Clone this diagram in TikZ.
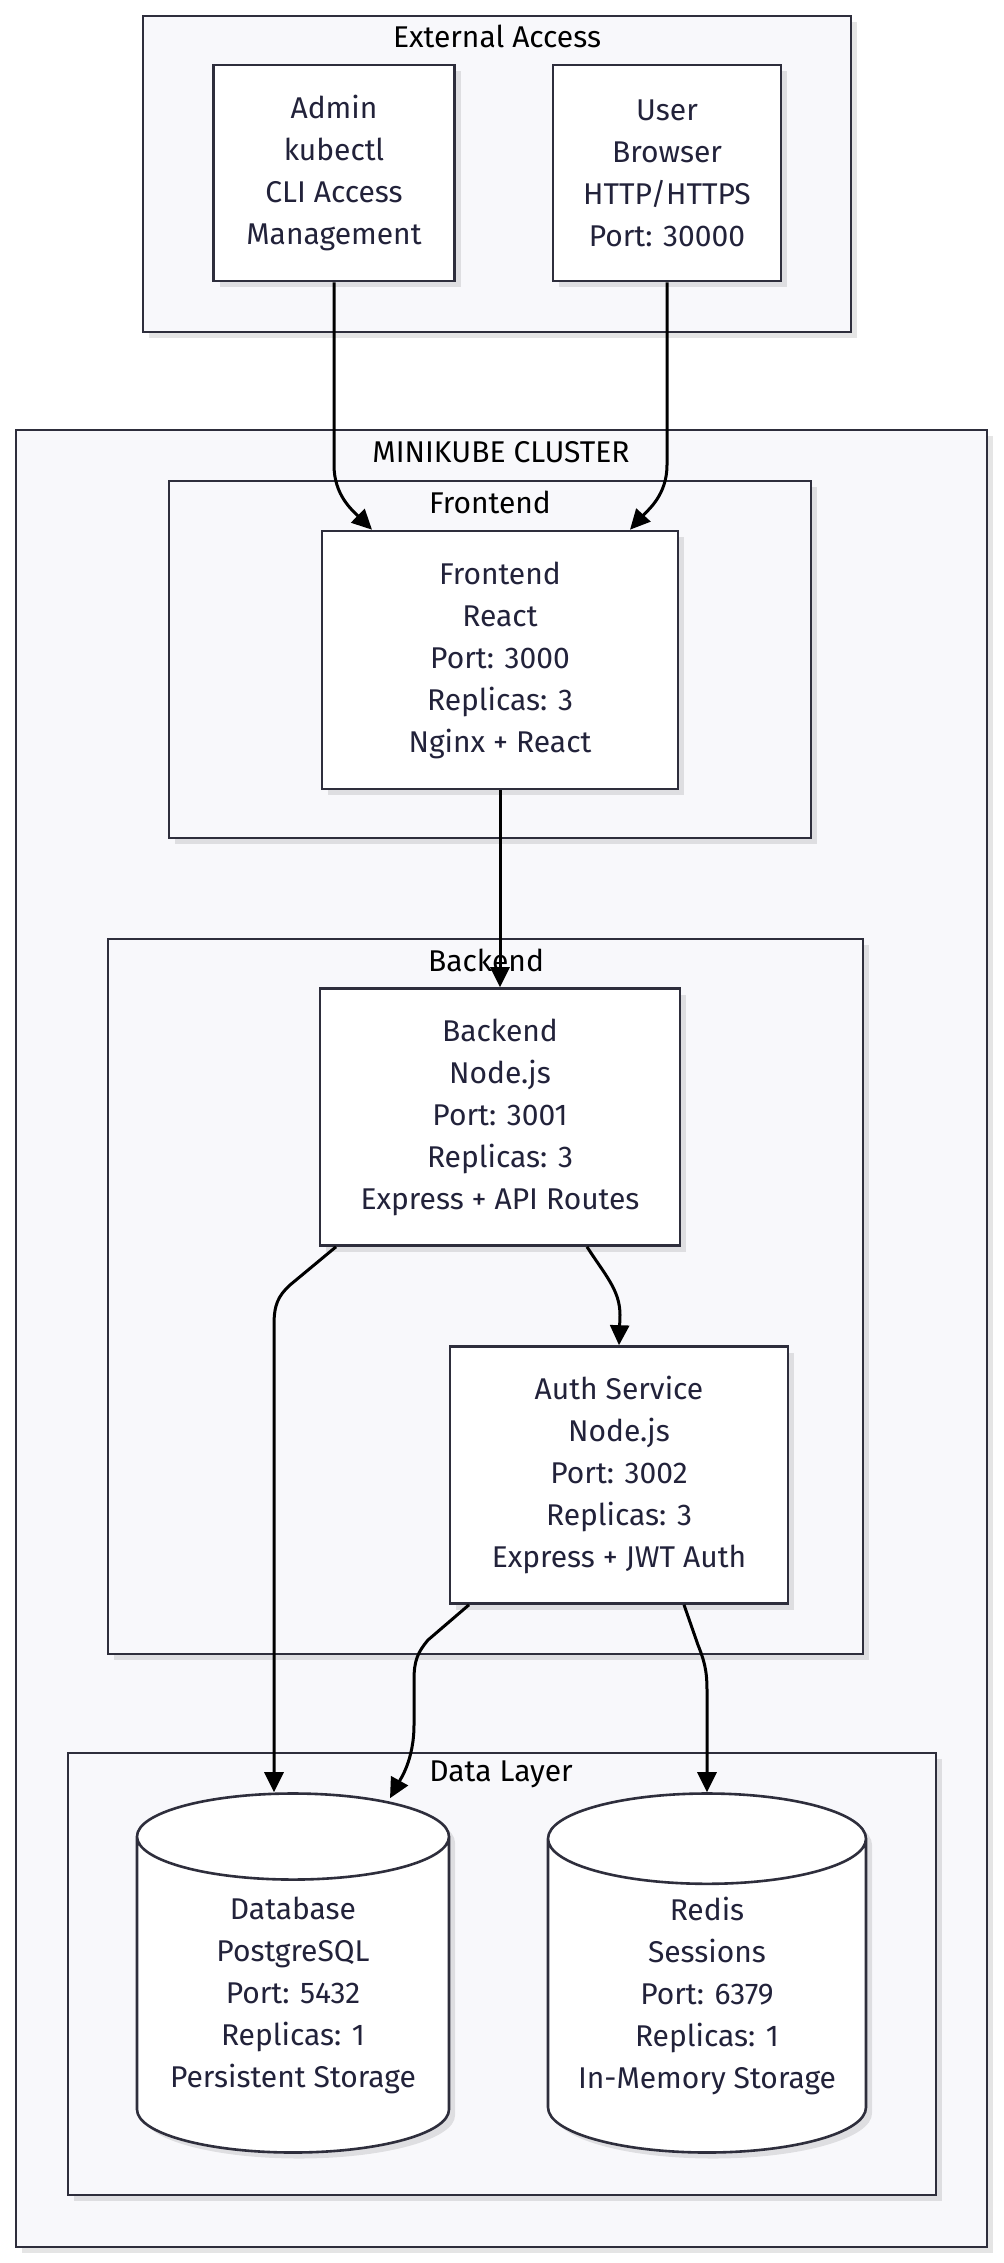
\documentclass[tikz,border=0pt]{standalone}
\usepackage{fontspec}
\setmainfont{Fira Sans}
\usetikzlibrary{shapes.geometric,shadows,arrows.meta,positioning}
\definecolor{inkc}{HTML}{22223A}
\definecolor{linec}{HTML}{2E2E3C}
\definecolor{groupc}{HTML}{F8F8FB}
\tikzset{
  softshadow/.style={drop shadow={shadow xshift=3pt,shadow yshift=-3pt,opacity=0.10,fill=black}},
  group/.style={draw=linec, fill=groupc, line width=1.3pt, softshadow},
  grouptitle/.style={text=black, font=\fontsize{15}{16}\selectfont},
  svc/.style={draw=linec, fill=white, line width=1.3pt, align=center, text=inkc,
    font=\fontsize{15}{21}\selectfont, inner sep=0pt, softshadow},
  store/.style={svc, cylinder, shape border rotate=90, aspect=0.35, anchor=shape center},
  flow/.style={-{Triangle[length=10pt,width=9.5pt]}, line width=1.5pt, black},
}
\begin{document}
\begin{tikzpicture}[x=0.5pt,y=0.5pt]
\useasboundingbox (0,0) rectangle (1003,-2263);

% groups
\draw[group] (143,-16) rectangle (851,-332);
\node[grouptitle] (extT) at (497,-36) {External Access};
\draw[group] (16,-430) rectangle (987,-2247);
\node[grouptitle] (mkT) at (501,-452) {MINIKUBE CLUSTER};
\draw[group] (169,-481) rectangle (811,-838);
\node[grouptitle] (feT) at (490,-502) {Frontend};
\draw[group] (108,-939) rectangle (863,-1654);
\node[grouptitle] (beT) at (486,-960) {Backend};
\draw[group] (68,-1753) rectangle (936,-2195);
\node[grouptitle] (dataT) at (501,-1774) {Data Layer};

% services
\node[svc, minimum width=120.5pt, minimum height=108pt] (admin) at (334,-173)
  {Admin\\kubectl\\CLI Access\\Management};
\node[svc, minimum width=114pt, minimum height=108pt] (user) at (667,-173)
  {User\\Browser\\HTTP/HTTPS\\Port: 30000};
\node[svc, minimum width=178pt, minimum height=129pt] (fe) at (500,-660)
  {Frontend\\React\\Port: 3000\\Replicas: 3\\Nginx + React};
\node[svc, minimum width=180pt, minimum height=128.5pt] (be) at (500,-1117)
  {Backend\\Node.js\\Port: 3001\\Replicas: 3\\Express + API Routes};
\node[svc, minimum width=169pt, minimum height=128.5pt] (auth) at (619,-1475)
  {Auth Service\\Node.js\\Port: 3002\\Replicas: 3\\Express + JWT Auth};

% stores
\node[store, minimum width=156pt, minimum height=179.5pt] (db) at (293,-1973)
  {Database\\PostgreSQL\\Port: 5432\\Replicas: 1\\Persistent Storage};
\node[store, minimum width=159pt, minimum height=179.5pt] (redis) at (707,-1973)
  {Redis\\Sessions\\Port: 6379\\Replicas: 1\\In-Memory Storage};

% connectors
\draw[flow] (admin.south) -- (334,-465) .. controls (334,-495) and (352,-510) .. ([xshift=-64pt]fe.north);
\draw[flow] (user.south) -- (667,-465) .. controls (667,-495) and (648,-510) .. ([xshift=65pt]fe.north);
\draw[flow] (fe.south) -- (be.north);
\draw[flow] ([xshift=-82pt]be.south) -- (290,-1285) .. controls (278,-1296) and (274,-1305) .. (274,-1325) -- ([xshift=-9.5pt]db.north);
\draw[flow] ([xshift=43.5pt]be.south) .. controls (605,-1275) and (620,-1290) .. (620,-1315) -- (auth.north);
\draw[flow] ([xshift=-75pt]auth.south) -- (428,-1640) .. controls (418,-1652) and (414,-1660) .. (414,-1680) -- (414,-1725) .. controls (414,-1760) and (400,-1780) .. ([xshift=48.5pt,yshift=-3pt]db.north);
\draw[flow] ([xshift=32.5pt]auth.south) -- (698,-1645) .. controls (704,-1660) and (707,-1670) .. (707,-1690) -- (redis.north);
\end{tikzpicture}
\end{document}
